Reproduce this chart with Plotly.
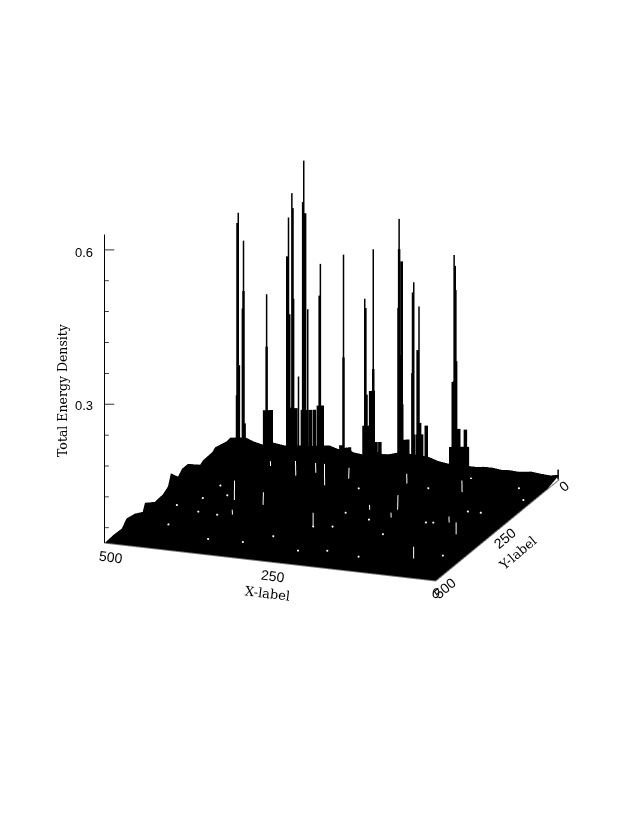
import plotly.graph_objects as go

Z_FLOOR = 0.03
Z_LOW = 0.02
Z_TOP = 0.63
Z_HIGH = 0.64

# back edge of the surface (y = 0), height
back_x = [0, 14, 27, 42, 62, 75, 88, 100, 114, 125, 138, 150, 167, 183, 198, 215, 240, 258,
          267, 281, 297, 311, 321, 334, 347, 356, 375, 395, 414, 432, 448, 462, 474, 497, 500]
back_z = [0.039, 0.036, 0.037, 0.039, 0.036, 0.037, 0.036, 0.038, 0.038, 0.036, 0.036, 0.038,
          0.036, 0.039, 0.045, 0.046, 0.048, 0.041, 0.040, 0.046, 0.035, 0.037, 0.045, 0.040,
          0.045, 0.044, 0.040, 0.038, 0.035, 0.038, 0.032, 0.036, 0.042, 0.038, 0.032]

# left edge of the surface (x = 500)
left_y = [0, 53, 65, 102, 114, 163, 187, 203, 232, 244, 264, 297, 337, 346, 378, 411, 431, 467, 500]
left_z = [0.032, 0.040, 0.035, 0.034, 0.030, 0.051, 0.051, 0.042, 0.060, 0.039, 0.032, 0.030,
          0.044, 0.030, 0.039, 0.043, 0.031, 0.032, 0.030]

# tallest, thin part of each peak
peak_x = [485, 477, 442, 409, 404, 386, 380, 361, 394, 326, 294, 281, 242, 220, 212, 159, 2]
peak_z = [0.477, 0.424, 0.325, 0.479, 0.527, 0.593, 0.305, 0.396, 0.172, 0.419, 0.338,
          0.436, 0.501, 0.381, 0.335, 0.443, 0.049]

# thicker part below the tips
shoulder_x = [486, 478, 477, 484, 442, 411, 408, 403, 402, 387, 384, 386, 362, 326, 293,
              281, 242, 243, 238, 239, 221, 222, 214, 158, 157, 156, 161]
shoulder_z = [0.457, 0.292, 0.326, 0.181, 0.223, 0.403, 0.291, 0.498, 0.322, 0.512, 0.491,
              0.208, 0.334, 0.219, 0.320, 0.203, 0.442, 0.328, 0.419, 0.237, 0.361, 0.204,
              0.250, 0.422, 0.375, 0.237, 0.196]

# wide blocks at the foot of the peaks
foot_x = [486, 476, 445, 439, 435, 409, 405, 398, 388, 382, 376, 370, 364, 358, 330, 317,
          295, 289, 292, 281, 285, 277, 271, 242, 238, 233, 229, 220, 214, 208, 201, 211,
          164, 158, 152, 147, 142, 139]
foot_z = [0.122, 0.069, 0.099, 0.100, 0.101, 0.109, 0.110, 0.110, 0.108, 0.109, 0.110, 0.111,
          0.120, 0.121, 0.048, 0.046, 0.091, 0.092, 0.152, 0.161, 0.160, 0.062, 0.063, 0.140,
          0.141, 0.073, 0.074, 0.085, 0.086, 0.087, 0.105, 0.109, 0.069, 0.198, 0.106, 0.072,
          0.106, 0.073]

# white gaps in the wire mesh: start and end of each stroke on the floor
fleck_x0 = [427, 370, 411, 383, 378, 348, 335, 296, 210, 187, 66, 126, 85, 83, 209, 160, 168, 271]
fleck_y0 = [170, 206, 68, 297, 55, 54, 53, 58, 55, 152, 241, 57, 219, 367, 208, 7, 231, 270]
fleck_x1 = [396, 350, 403, 375, 354, 332, 300, 279, 194, 164, 47, 107, 75, 64, 201, 150, 160, 249]
fleck_y1 = [254, 261, 89, 318, 118, 96, 146, 105, 97, 215, 292, 107, 245, 418, 229, 32, 252, 329]

# single white specks on the floor
speck_x = [438, 441, 413, 425, 395, 368, 444, 464, 223, 186, 228, 250, 158, 38, 13, 117, 49, 68,
           106, 96, 144, 140, 30, 191, 286, 249, 317, 230]
speck_y = [198, 261, 237, 322, 326, 435, 392, 304, 320, 272, 254, 142, 107, 62, 111, 44, 187, 188,
           256, 253, 328, 437, 391, 427, 391, 329, 431, 441]

z_major = [0.3, 0.6]
z_minor = [0.06, 0.12, 0.18, 0.24, 0.36, 0.42, 0.48, 0.54]


def columns(xs, zs):
    # vertical strokes standing on the back row, split with None
    px, py, pz = [], [], []
    for x, z in zip(xs, zs):
        px += [x, x, None]
        py += [0, 0, None]
        pz += [Z_FLOOR, z, None]
    return px, py, pz


def z_ticks(values, dx, dy):
    px, py, pz = [], [], []
    for v in values:
        px += [500, 500 - dx, None]
        py += [500, 500 - dy, None]
        pz += [v, v, None]
    return px, py, pz


# flat floor with the measured heights along the two far edges
grid_z = [[Z_FLOOR for _ in back_x] for _ in left_y]
grid_z[0] = list(back_z)
for j in range(len(left_y)):
    grid_z[j][-1] = left_z[j]

fig = go.Figure()

fig.add_trace(go.Surface(
    x=back_x, y=left_y, z=grid_z,
    colorscale=[[0, "#000000"], [1, "#000000"]],
    showscale=False,
    hoverinfo="skip",
    lighting=dict(ambient=1, diffuse=0, specular=0, roughness=1, fresnel=0),
))

for xs, zs, width in [(foot_x, foot_z, 7), (shoulder_x, shoulder_z, 5), (peak_x, peak_z, 3)]:
    px, py, pz = columns(xs, zs)
    fig.add_trace(go.Scatter3d(x=px, y=py, z=pz, mode="lines",
                               line=dict(color="#000000", width=width), hoverinfo="skip"))

# white strokes, just above the floor
fx, fy, fz = [], [], []
for a, b, c, d in zip(fleck_x0, fleck_y0, fleck_x1, fleck_y1):
    fx += [a, c, None]
    fy += [b, d, None]
    fz += [Z_FLOOR + 0.002, Z_FLOOR + 0.002, None]
fig.add_trace(go.Scatter3d(x=fx, y=fy, z=fz, mode="lines",
                           line=dict(color="#ffffff", width=2), hoverinfo="skip"))
fig.add_trace(go.Scatter3d(x=speck_x, y=speck_y, z=[Z_FLOOR + 0.002] * len(speck_x), mode="markers",
                           marker=dict(color="#ffffff", size=1.2), hoverinfo="skip"))

# axes
fig.add_trace(go.Scatter3d(x=[500, 500], y=[500, 500], z=[Z_FLOOR, Z_TOP], mode="lines",
                           line=dict(color="#000000", width=2), hoverinfo="skip"))
fig.add_trace(go.Scatter3d(x=[500, 0, 0], y=[500, 500, 0], z=[Z_FLOOR, Z_FLOOR, Z_FLOOR], mode="lines",
                           line=dict(color="#777777", width=2), hoverinfo="skip"))
px, py, pz = z_ticks(z_major, 12.8, 4.8)
fig.add_trace(go.Scatter3d(x=px, y=py, z=pz, mode="lines",
                           line=dict(color="#333333", width=2), hoverinfo="skip"))
px, py, pz = z_ticks(z_minor, 5.7, 2.1)
fig.add_trace(go.Scatter3d(x=px, y=py, z=pz, mode="lines",
                           line=dict(color="#000000", width=1.5), hoverinfo="skip"))

hidden = dict(visible=False, showgrid=False, zeroline=False, showticklabels=False, showspikes=False)
fig.update_layout(
    width=632, height=817,
    margin=dict(l=0, r=0, t=0, b=0),
    paper_bgcolor="#ffffff",
    showlegend=False,
    scene=dict(
        domain=dict(x=[0.038, 0.987], y=[0.1346, 1]),
        xaxis=dict(range=[0, 500], **hidden),
        yaxis=dict(range=[0, 500], **hidden),
        zaxis=dict(range=[Z_LOW, Z_HIGH], **hidden),
        aspectmode="manual",
        aspectratio=dict(x=1, y=1, z=0.948),
        camera=dict(
            projection=dict(type="orthographic"),
            eye=dict(x=-0.638, y=1.708, z=0.574),
            up=dict(x=0, y=0, z=1),
            center=dict(x=0, y=0, z=-0.0135),
        ),
    ),
)


def label(text, px, py, size, angle=0, font="Liberation Sans"):
    # px, py are page pixels; the page body adds an 8 px margin round the figure
    fig.add_annotation(text=text, xref="paper", yref="paper", x=(px - 8) / 632, y=1 - (py - 8) / 817,
                       showarrow=False, textangle=angle, xanchor="center", yanchor="middle",
                       font=dict(family=font, size=size, color="#000000"))


label("0.6", 84, 252, 13)
label("0.3", 84, 405, 13)
label("Total Energy Density", 62, 390, 12.5, -90, "DejaVu Serif")
label("500", 111, 557, 14, 7)
label("250", 273, 576, 14, 7)
label("0", 436, 593, 14, 7)
label("X-label", 267, 593, 13, 7, "DejaVu Serif")
label("0", 564, 486, 14, -40)
label("250", 505, 538, 14, -40)
label("500", 445, 588, 14, -40)
label("Y-label", 517, 553, 13, -40, "DejaVu Serif")

fig.write_html("out.html")
